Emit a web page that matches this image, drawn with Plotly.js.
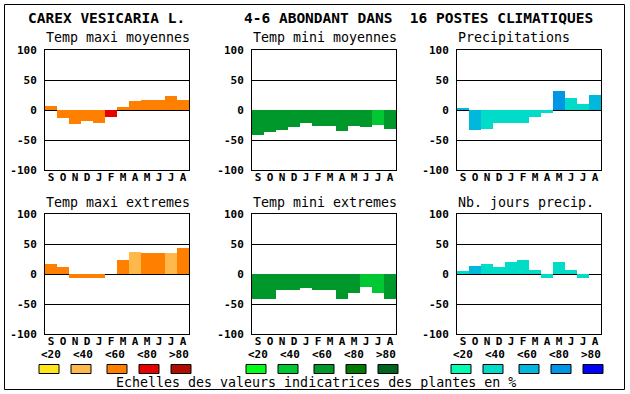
<!DOCTYPE html>
<html>
<head>
<meta charset="utf-8">
<script src="https://cdn.plot.ly/plotly-3.0.1.min.js"></script>
<style>html,body{margin:0;padding:0;background:#fff;}#chart{width:630px;height:394px;}</style>
</head>
<body>
<div id="chart"></div>
<script>
// ---- data ----
const months = ['S','O','N','D','J','F','M','A','M','J','J','A'];
const yTickVals = [-100, -50, 0, 50, 100];
const yTickText = ['-100', '-50', '0', '50', '100'];
const panelTitles = ['Temp maxi moyennes', 'Temp mini moyennes', 'Precipitations',
                     'Temp maxi extremes', 'Temp mini extremes', 'Nb. jours precip.'];

const tempMaxiMoy   = [7, -13, -23, -18, -21, -11, 5, 15, 17, 17, 23, 17];
const tempMiniMoy   = [-42, -37, -34, -28, -22, -27, -27, -35, -27, -28, -25, -31];
const precip        = [3, -33, -32, -22, -22, -22, -12, -5, 32, 20, 10, 25];
const tempMaxiExt   = [17, 12, -6, -6, -6, 0, 24, 37, 35, 35, 35, 44];
const tempMiniExt   = [-42, -41, -26, -26, -24, -27, -27, -41, -32, -22, -31, -42];
const nbJoursPrecip = [5, 14, 17, 12, 20, 24, 7, -6, 20, 7, -7, 0];

// abundance class of each month (0:<20 1:<40 2:<60 3:<80 4:>80)
const classTempMaxiMoy   = [2,2,2,2,2,3,2,2,2,2,2,2];
const classTempMiniMoy   = [2,2,2,2,2,2,2,2,2,2,1,2];
const classPrecip        = [2,2,1,1,1,1,1,1,3,1,1,2];
const classTempMaxiExt   = [2,2,2,2,2,2,2,1,2,2,1,2];
const classTempMiniExt   = [2,2,2,2,2,2,2,2,2,1,1,2];
const classNbJoursPrecip = [1,2,1,1,1,1,1,1,1,1,1,1];

const legendLabels = ['<20', '<40', '<60', '<80', '>80'];
const paletteOrange = ['#FFE619', '#FFB84C', '#FF8000', '#E80000', '#B00C00'];
const paletteGreen  = ['#00FF14', '#00C832', '#00982A', '#007A00', '#006420'];
const paletteBlue   = ['#00FFB4', '#00DCC8', '#00B8DC', '#0096E6', '#0000FF'];

const headerLeft  = 'CAREX VESICARIA L.';
const headerRight = '4-6 ABONDANT DANS  16 POSTES CLIMATIQUES';
const caption     = 'Echelles des valeurs indicatrices des plantes en %';

// ---- layout ----
const W = 630, H = 394;
const px = x => x / W;
const py = y => 1 - y / H;
const MONO = 'DejaVu Sans Mono';

const series = [tempMaxiMoy, tempMiniMoy, precip, tempMaxiExt, tempMiniExt, nbJoursPrecip];
const classes = [classTempMaxiMoy, classTempMiniMoy, classPrecip, classTempMaxiExt, classTempMiniExt, classNbJoursPrecip];
const palettes = [paletteOrange, paletteGreen, paletteBlue, paletteOrange, paletteGreen, paletteBlue];

const colLeft = [45, 252, 457];
const plotW = 144;
const rowTop = [50, 214];
const plotH = 120;

const data = [];
const layout = {
  width: W, height: H,
  margin: {l: 0, r: 0, t: 0, b: 0, pad: 0},
  paper_bgcolor: '#fff', plot_bgcolor: '#fff',
  showlegend: false, bargap: 0,
  annotations: [], shapes: []
};

for (let i = 0; i < 6; i++) {
  const c = i % 3, r = Math.floor(i / 3);
  const n = i + 1;
  const xa = 'xaxis' + (n === 1 ? '' : n), ya = 'yaxis' + (n === 1 ? '' : n);
  data.push({
    type: 'bar',
    x: months.map((m, k) => k),
    y: series[i],
    marker: {color: classes[i].map(k => palettes[i][k]), line: {width: 0}},
    xaxis: 'x' + (n === 1 ? '' : n), yaxis: 'y' + (n === 1 ? '' : n),
    hoverinfo: 'skip'
  });
  layout[xa] = {
    domain: [px(colLeft[c]), px(colLeft[c] + plotW)],
    anchor: 'y' + (n === 1 ? '' : n),
    range: [-0.5, 11.5],
    tickmode: 'array', tickvals: months.map((m, k) => k), ticktext: months,
    showgrid: false, zeroline: false,
    showline: true, mirror: true, linecolor: '#000', linewidth: 1,
    ticks: '', ticklabelstandoff: -3,
    tickfont: {family: MONO, size: 11, color: '#000', weight: 'bold'},
    fixedrange: true
  };
  layout[ya] = {
    domain: [py(rowTop[r] + plotH), py(rowTop[r])],
    anchor: 'x' + (n === 1 ? '' : n),
    range: [-100, 100],
    tickmode: 'array', tickvals: yTickVals, ticktext: yTickText,
    showgrid: true, gridcolor: '#000', gridwidth: 1,
    zeroline: true, zerolinecolor: '#000', zerolinewidth: 1,
    showline: true, mirror: true, linecolor: '#000', linewidth: 1,
    ticks: '', ticklabelstandoff: 5,
    tickfont: {family: MONO, size: 11, color: '#000', weight: 'bold'},
    fixedrange: true
  };
  layout.annotations.push({
    xref: 'paper', yref: 'paper', x: px(colLeft[c] - 1), y: py(rowTop[r] - 12),
    xanchor: 'left', yanchor: 'middle', showarrow: false,
    text: panelTitles[i], font: {family: MONO, size: 13.3, color: '#000'}
  });
}

// header
layout.annotations.push({
  xref: 'paper', yref: 'paper', x: px(26), y: py(18), xanchor: 'left', yanchor: 'middle',
  showarrow: false, text: headerLeft, font: {family: MONO, size: 14.5, color: '#000', weight: 'bold'}
});
layout.annotations.push({
  xref: 'paper', yref: 'paper', x: px(242), y: py(18), xanchor: 'left', yanchor: 'middle',
  showarrow: false, text: headerRight, font: {family: MONO, size: 14.5, color: '#000', weight: 'bold'}
});
// caption
layout.annotations.push({
  xref: 'paper', yref: 'paper', x: px(114), y: py(382), xanchor: 'left', yanchor: 'middle',
  showarrow: false, text: caption, font: {family: MONO, size: 13.3, color: '#000'}
});

// colour scales
const groupPalettes = [paletteOrange, paletteGreen, paletteBlue];
const labelOffsets = [0, 32, 64, 96, 128];
const boxOffsets = [0, 32, 68, 100, 132];
for (let g = 0; g < 3; g++) {
  const base = colLeft[g] - 6;
  for (let k = 0; k < 5; k++) {
    layout.annotations.push({
      xref: 'paper', yref: 'paper', x: px(base + labelOffsets[k]), y: py(354.5),
      xanchor: 'left', yanchor: 'middle', showarrow: false, text: legendLabels[k],
      font: {family: MONO, size: 11, color: '#000', weight: 'bold'}
    });
    layout.shapes.push({
      type: 'rect', xref: 'paper', yref: 'paper',
      x0: px(base + boxOffsets[k]), x1: px(base + boxOffsets[k] + 20),
      y0: py(373.5), y1: py(364.5),
      fillcolor: groupPalettes[g][k], line: {color: '#000', width: 1}
    });
  }
}

// outer frame
layout.shapes.push({
  type: 'rect', xref: 'paper', yref: 'paper',
  x0: px(4.5), x1: px(624.5), y0: py(389.5), y1: py(4.5),
  line: {color: '#000', width: 1}, fillcolor: 'rgba(0,0,0,0)'
});

Plotly.newPlot('chart', data, layout, {displayModeBar: false, staticPlot: true});
</script>
</body>
</html>
